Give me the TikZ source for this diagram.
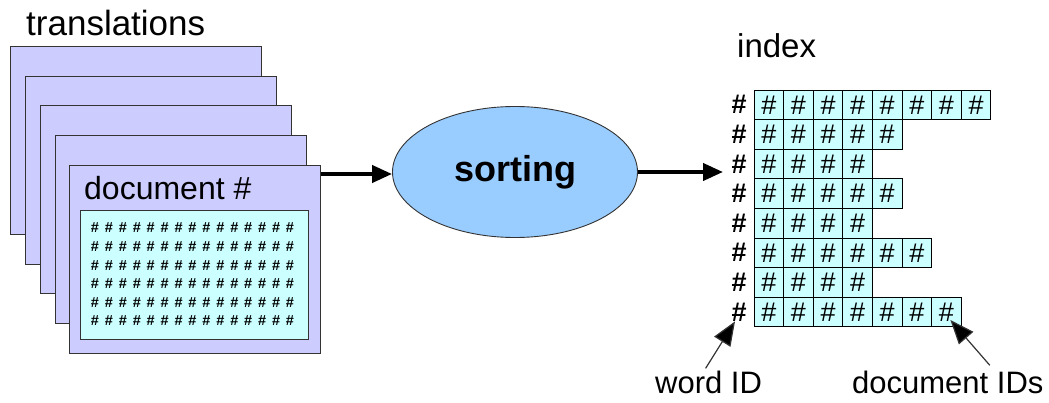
\documentclass[tikz,border=0pt]{standalone}
\usepackage{fontspec}
\setmainfont{Liberation Sans}
\usetikzlibrary{arrows.meta,shapes.geometric}
\definecolor{pagefill}{HTML}{CCCCFF}
\definecolor{boxfill}{HTML}{CCFFFF}
\definecolor{sortfill}{HTML}{99CCFF}
\definecolor{edge}{HTML}{333333}
\begin{document}
\begin{tikzpicture}[x=1pt,y=-1pt,
  page/.style={draw=edge,fill=pagefill,line width=1.1pt,inner sep=0pt,
    minimum width=251pt,minimum height=188pt,anchor=north west},
  textbox/.style={draw=edge,fill=boxfill,line width=1.1pt,inner sep=0pt,
    minimum width=228pt,minimum height=129pt,anchor=north west},
  smallhash/.style={inner sep=0pt,font=\fontsize{14.5}{14.5}\selectfont\bfseries},
  cell/.style={draw=black,fill=boxfill,line width=0.9pt,inner sep=0pt,
    minimum size=29.6pt,font=\fontsize{27}{27}\selectfont},
  wordhash/.style={inner sep=0pt,font=\fontsize{27}{27}\selectfont\bfseries},
  label/.style={inner sep=0pt,anchor=base west},
  flow/.style={line width=4pt,-{Triangle[length=20pt,width=17pt]}},
  pointer/.style={draw=edge,line width=1.2pt,-{Triangle[length=24pt,width=19pt,fill=black]}}
]
\useasboundingbox (0,0) rectangle (1049,403);

% stack of document pages
\node[label,font=\fontsize{35}{35}\selectfont] (trans) at (26,36) {translations};
\node[page] (p1) at (10,46) {};
\node[page] (p2) at (25,76) {};
\node[page] (p3) at (40,105) {};
\node[page] (p4) at (55,135) {};
\node[page] (p5) at (69,165) {};
\node[label,font=\fontsize{32}{32}\selectfont] (doctitle) at (84,200) {document \#};
\node[textbox] (body) at (80,210) {};
\foreach \r in {1,...,6}
  \foreach \c in {1,...,15}
    \node[smallhash] (h-\r-\c) at ({95+13.93*(\c-1)},{228+18.6*(\r-1)}) {\#};

% sorting step
\node[ellipse,draw=edge,line width=0.9pt,fill=sortfill,inner sep=0pt,
  minimum width=245pt,minimum height=131pt,
  font=\fontsize{36}{36}\selectfont\bfseries] (sort) at (515,172) {sorting};

% inverted index
\node[label,font=\fontsize{33}{33}\selectfont] (idx) at (737,58) {index};
\foreach \r/\n in {1/8,2/5,3/4,4/5,5/4,6/6,7/4,8/7} {
  \node[wordhash] (w-\r) at (739,{90+29.6*(\r-0.5)}) {\#};
  \foreach \c in {1,...,\n}
    \node[cell] (c-\r-\c) at ({754+29.6*(\c-0.5)},{90+29.6*(\r-0.5)}) {\#};
}
\coordinate (idxin) at (723,172);

% flow arrows
\draw[flow] (p5.east |- 0,174) -- (sort.west |- 0,174);
\draw[flow] (sort.east) -- (idxin);

% annotations
\node[label,font=\fontsize{31}{31}\selectfont] (wordid) at (655,393) {word ID};
\node[label,font=\fontsize{31}{31}\selectfont] (docids) at (852,393) {document IDs};
\draw[pointer] ([xshift=-3pt,yshift=2pt]wordid.north) -- ([xshift=-4pt]w-8.south);
\draw[pointer] ([xshift=42pt,yshift=5pt]docids.north) -- ([xshift=4pt,yshift=-8pt]c-8-7.center);
\end{tikzpicture}
\end{document}
